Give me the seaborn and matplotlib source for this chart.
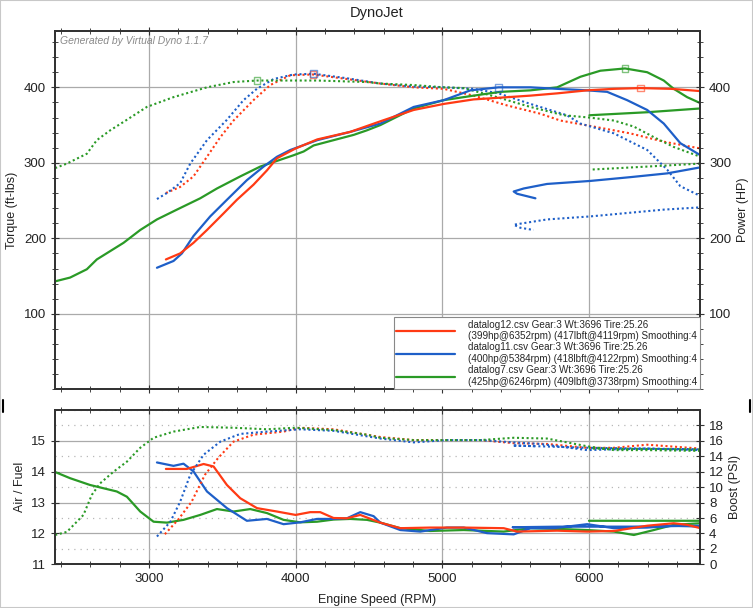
import matplotlib
matplotlib.use("Agg")
import matplotlib.pyplot as plt
import seaborn as sns
import pandas as pd
from matplotlib.lines import Line2D
from matplotlib.ticker import MultipleLocator

# --- datalog12 (red) ---
red_pwr_rpm = [3116, 3213, 3304, 3396, 3509, 3600, 3713, 3805, 3873, 4000, 4148, 4373, 4578, 4805,
               5010, 5214, 5373, 5601, 5783, 5988, 6170, 6352, 6560, 6760]
red_pwr = [172, 180, 194, 211, 233, 251, 271, 290, 306, 319, 331, 341, 355, 370,
           378, 384, 386, 389, 392, 396, 398, 399, 398, 395]
red_tq_rpm = [3116, 3213, 3304, 3396, 3487, 3577, 3713, 3827, 3964, 4119, 4350, 4578, 4805, 5010,
              5214, 5442, 5669, 5805, 6032, 6281, 6510, 6760]
red_tq = [260, 268, 282, 308, 334, 356, 383, 403, 416, 417, 411, 405, 400, 398,
          389, 376, 365, 356, 348, 339, 328, 319]
red_afr_rpm = [3116, 3259, 3373, 3441, 3532, 3623, 3737, 3873, 4000, 4100, 4168, 4259, 4350, 4441,
               4578, 4714, 4918, 5146, 5419, 5510, 5783, 5988, 6170, 6397, 6578, 6669, 6760]
red_afr = [14.09, 14.09, 14.25, 14.17, 13.57, 13.14, 12.82, 12.71, 12.60, 12.69, 12.69, 12.50, 12.49, 12.60,
           12.35, 12.17, 12.19, 12.19, 12.17, 12.06, 12.09, 12.06, 12.08, 12.25, 12.33, 12.28, 12.17]
red_boost_rpm = [3109, 3200, 3291, 3382, 3473, 3577, 3713, 3918, 4032, 4259, 4578, 4805, 5010, 5260,
                 5487, 5714, 5988, 6170, 6397, 6760]
red_boost = [3.9, 5.8, 8.1, 11.6, 13.8, 15.9, 16.8, 17.2, 17.7, 17.5, 16.5, 16.1, 16.1, 16.1,
             15.7, 15.6, 15.1, 15.1, 15.5, 15.0]

# --- datalog11 (blue) ---
blue_pwr_rpm = [3055, 3168, 3225, 3304, 3418, 3532, 3668, 3782, 3873, 3964, 4148, 4373, 4578, 4805,
                5010, 5192, 5384, 5601, 5783, 5988, 6124, 6260, 6397, 6510, 6623, 6760,
                6800, 6760, 6533, 6281, 6009, 5714, 5555, 5487, 5510, 5635]
blue_pwr = [161, 170, 180, 203, 229, 251, 277, 295, 308, 317, 330, 341, 352, 374,
            383, 396, 400, 400, 398, 396, 394, 383, 370, 352, 326, 310,
            302, 294, 286, 281, 276, 272, 266, 262, 259, 253]
blue_tq_rpm = [3055, 3123, 3213, 3282, 3396, 3532, 3645, 3736, 3850, 3986, 4122, 4350, 4578, 4805,
               5010, 5214, 5384, 5601, 5850, 5942, 6170, 6397, 6533, 6623, 6760,
               6800, 6760, 6510, 6009, 5714, 5487, 5532, 5623]
blue_tq = [252, 260, 273, 299, 330, 357, 383, 398, 411, 417, 418, 412, 405, 401,
           400, 398, 392, 378, 363, 352, 339, 317, 291, 269, 256,
           250, 241, 238, 229, 225, 218, 214, 211]
blue_afr_rpm = [3055, 3168, 3236, 3304, 3396, 3532, 3668, 3805, 3918, 4032, 4146, 4259, 4350, 4441,
                4532, 4578, 4714, 4850, 5032, 5146, 5305, 5487, 5601, 5760, 5988, 6170, 6397, 6578, 6760,
                6800, 6760, 6300, 5800, 5480, 5630]
blue_afr = [14.30, 14.19, 14.26, 14.01, 13.36, 12.82, 12.41, 12.47, 12.30, 12.36, 12.47, 12.47, 12.49, 12.69,
            12.56, 12.35, 12.11, 12.06, 12.19, 12.19, 12.01, 11.97, 12.17, 12.17, 12.30, 12.17, 12.19, 12.25, 12.22,
            12.23, 12.25, 12.22, 12.22, 12.20, 12.20]
blue_boost_rpm = [3055, 3146, 3213, 3282, 3373, 3487, 3623, 3805, 4032, 4259, 4578, 4805, 5032, 5260,
                  5487, 5669, 5988, 6170, 6397, 6760, 6800, 6760, 6000, 5480, 5640]
blue_boost = [3.6, 5.5, 8.1, 11.6, 14.2, 15.9, 16.9, 17.2, 17.5, 17.3, 16.3, 15.8, 16.1, 16.1,
              15.8, 15.6, 14.8, 14.9, 15.0, 14.8, 14.85, 14.9, 15.1, 15.4, 15.3]

# --- datalog7 (green) ---
green_pwr_rpm = [2361, 2463, 2577, 2645, 2736, 2827, 2941, 3055, 3191, 3350, 3464, 3623, 3759, 3850,
                 3986, 4055, 4123, 4259, 4396, 4486, 4578, 4805, 5010, 5214, 5396, 5601, 5783, 5942,
                 6078, 6246, 6397, 6510, 6578, 6669, 6760, 6800, 6760, 6397, 6003]
green_pwr = [143, 148, 159, 172, 183, 194, 211, 225, 238, 253, 266, 282, 295, 301,
             310, 315, 323, 330, 337, 343, 350, 372, 383, 389, 394, 396, 400, 414,
             422, 425, 420, 409, 398, 387, 379, 375, 372, 367, 363]
green_tq_rpm = [2361, 2441, 2577, 2645, 2736, 2850, 2986, 3168, 3396, 3577, 3738, 3918, 4145, 4486,
                4578, 4805, 5010, 5146, 5373, 5601, 5828, 6000, 6170, 6306, 6442, 6578, 6760,
                6800, 6760, 6397, 6009]
green_tq = [293, 299, 312, 330, 343, 357, 374, 387, 400, 407, 409, 409, 409, 407,
            405, 403, 400, 399, 387, 374, 363, 360, 356, 348, 334, 321, 308,
            304, 299, 295, 291]
green_afr_rpm = [2361, 2463, 2599, 2781, 2850, 2941, 3032, 3123, 3236, 3350, 3464, 3577, 3691, 3805,
                 3918, 4032, 4146, 4259, 4373, 4487, 4578, 4714, 4918, 5146, 5419, 5601, 5828, 5988,
                 6170, 6306, 6442, 6578, 6760, 6800, 6760, 6000]
green_afr = [13.99, 13.79, 13.57, 13.36, 13.19, 12.71, 12.38, 12.35, 12.44, 12.60, 12.79, 12.71, 12.79, 12.66,
             12.44, 12.36, 12.38, 12.45, 12.47, 12.44, 12.35, 12.17, 12.08, 12.11, 12.06, 12.17, 12.14, 12.11,
             12.06, 11.95, 12.11, 12.28, 12.33, 12.37, 12.41, 12.41]
green_boost_rpm = [2361, 2441, 2554, 2611, 2668, 2759, 2850, 2941, 3032, 3168, 3350, 3577, 3805, 4000,
                   4259, 4486, 4578, 4805, 5010, 5260, 5487, 5714, 5988, 6170, 6397, 6760, 6800, 6760, 6000]
green_boost = [3.8, 4.2, 6.4, 9.0, 10.5, 12.0, 13.3, 15.1, 16.4, 17.2, 17.8, 17.7, 17.5, 17.7,
               17.4, 16.8, 16.4, 16.1, 16.1, 16.1, 16.4, 16.3, 15.3, 14.8, 14.8, 14.7, 14.8, 14.9, 15.0]

# peak markers (rpm, value)
peak_rpm = [4119, 6352, 4122, 5384, 3738, 6246]
peak_val = [417, 399, 418, 400, 409, 425]

legend_labels = [
    "datalog12.csv Gear:3 Wt:3696 Tire:25.26\n(399hp@6352rpm) (417lbft@4119rpm) Smoothing:4",
    "datalog11.csv Gear:3 Wt:3696 Tire:25.26\n(400hp@5384rpm) (418lbft@4122rpm) Smoothing:4",
    "datalog7.csv Gear:3 Wt:3696 Tire:25.26\n(425hp@6246rpm) (409lbft@3738rpm) Smoothing:4",
]
RED, BLUE, GREEN = "#ff3a14", "#1e5fc8", "#2a9a26"
colors = [RED, BLUE, GREEN]

sns.set_style("white")
plt.rcParams["font.family"] = ["Liberation Sans", "DejaVu Sans"]

W, H = 753, 608
fig = plt.figure(figsize=(W / 100, H / 100), dpi=100)
ax1 = fig.add_axes([55 / W, 1 - 389.3 / H, 645 / W, 358.6 / H])
ax2 = fig.add_axes([55 / W, 1 - 564.3 / H, 645 / W, 154.3 / H])

XMIN, XMAX = 2360, 6757


def draw(ax, x, y, color, dotted):
    df = pd.DataFrame({"rpm": x, "v": y})
    sns.lineplot(data=df, x="rpm", y="v", ax=ax, sort=False, estimator=None, color=color,
                 lw=1.5 if dotted else 1.6, linestyle=(0, (1, 1.3)) if dotted else "-")


# top panel: torque dotted, power solid
series_top = [
    (red_tq_rpm, red_tq, RED, True), (blue_tq_rpm, blue_tq, BLUE, True), (green_tq_rpm, green_tq, GREEN, True),
    (green_pwr_rpm, green_pwr, GREEN, False), (blue_pwr_rpm, blue_pwr, BLUE, False), (red_pwr_rpm, red_pwr, RED, False),
]
for x, y, c, d in series_top:
    draw(ax1, x, y, c, d)
mk_colors = [RED, RED, BLUE, BLUE, GREEN, GREEN]
for px, pv, c in zip(peak_rpm, peak_val, mk_colors):
    ax1.scatter([px], [pv], marker="s", s=22, facecolors="none", edgecolors=c, alpha=0.6, lw=1, zorder=5)

ax1.set_xlim(XMIN, XMAX)
ax1.set_ylim(0, 475)
ax1.set_xlabel("")
ax1.set_ylabel("Torque (ft-lbs)", fontsize=9, color="#222")
ax1.set_xticks([3000, 4000, 5000, 6000])
ax1.xaxis.set_minor_locator(MultipleLocator(200))
ax1.set_yticks([100, 200, 300, 400])
ax1.yaxis.set_minor_locator(MultipleLocator(20))
ax1.tick_params(axis="x", labelbottom=False, top=True, bottom=True, which="both", direction="inout")
ax1.tick_params(axis="y", left=True, which="both", direction="inout", labelsize=9.5)
ax1.tick_params(which="major", length=6)
ax1.tick_params(which="minor", length=4)
ax1.grid(which="major", color="#aaaaaa", lw=0.9)
ax1.text(0.008, 0.985, "Generated by Virtual Dyno 1.1.7", transform=ax1.transAxes, ha="left", va="top",
         fontsize=7.5, style="italic", color="#8a8a8a")

ax1r = ax1.twinx()
ax1r.set_ylim(0, 475)
ax1r.set_yticks([100, 200, 300, 400])
ax1r.yaxis.set_minor_locator(MultipleLocator(20))
ax1r.set_ylabel("Power (HP)", fontsize=9, color="#222")
ax1r.tick_params(axis="y", right=True, which="both", direction="inout", labelsize=9.5)
ax1r.tick_params(which="major", length=6)
ax1r.tick_params(which="minor", length=4)

handles = [Line2D([], [], color=c, lw=1.6) for c in colors]
leg = ax1r.legend(handles, legend_labels, loc="lower right", borderaxespad=0, fancybox=False,
                  edgecolor="#888888", fontsize=7.1, handlelength=6.0, labelspacing=0.12,
                  borderpad=0.25, handletextpad=1.3, framealpha=1)
leg.get_frame().set_linewidth(0.8)

# bottom panel: AFR solid (left axis), boost dotted (right axis)
ax2r = ax2.twinx()
for x, y, c in [(green_afr_rpm, green_afr, GREEN), (blue_afr_rpm, blue_afr, BLUE), (red_afr_rpm, red_afr, RED)]:
    draw(ax2, x, y, c, False)
for x, y, c in [(red_boost_rpm, red_boost, RED), (blue_boost_rpm, blue_boost, BLUE), (green_boost_rpm, green_boost, GREEN)]:
    draw(ax2r, x, y, c, True)

ax2.set_xlim(XMIN, XMAX)
ax2.set_ylim(11, 16)
ax2r.set_ylim(0, 20)
ax2.set_xticks([3000, 4000, 5000, 6000])
ax2.xaxis.set_minor_locator(MultipleLocator(200))
ax2.set_yticks([11, 12, 13, 14, 15])
ax2.yaxis.set_minor_locator(MultipleLocator(0.5))
ax2.set_xlabel("Engine Speed (RPM)", fontsize=9, color="#222", labelpad=6)
ax2.set_ylabel("Air / Fuel", fontsize=9, color="#222")
ax2.tick_params(axis="x", top=True, bottom=True, which="both", direction="inout", labelsize=9.5)
ax2.tick_params(axis="y", left=True, which="major", direction="inout", labelsize=9.5)
ax2.tick_params(axis="y", which="minor", left=False)
ax2.tick_params(which="major", length=6)
ax2.tick_params(which="minor", length=4)
ax2.grid(which="major", color="#aaaaaa", lw=0.9)
ax2.grid(which="minor", axis="y", color="#b8b8b8", lw=0.9, linestyle=(0, (1, 4)))
ax2r.set_yticks(range(0, 20, 2))
ax2r.set_ylabel("Boost (PSI)", fontsize=9, color="#222")
ax2r.set_xlabel("")
ax2r.tick_params(axis="y", right=True, direction="inout", length=6, labelsize=9.5)

for ax in (ax1, ax1r, ax2, ax2r):
    for s in ax.spines.values():
        s.set_color("#333333")
        s.set_linewidth(1.3)
    ax.tick_params(colors="#333333", labelcolor="#222222")

fig.text(0.5, 1 - 13 / H, "DynoJet", ha="center", va="center", fontsize=10.5, color="#222")
fig.add_artist(Line2D([3 / W, 3 / W], [1 - 400 / H, 1 - 412 / H], color="black", lw=1.5))
fig.add_artist(Line2D([750 / W, 750 / W], [1 - 400 / H, 1 - 412 / H], color="black", lw=1.5))
fig.add_artist(plt.Rectangle((0, 0), 1, 1, transform=fig.transFigure, fill=False, ec="#c8c8c8", lw=1.5))

fig.savefig("out.png", dpi=100)
